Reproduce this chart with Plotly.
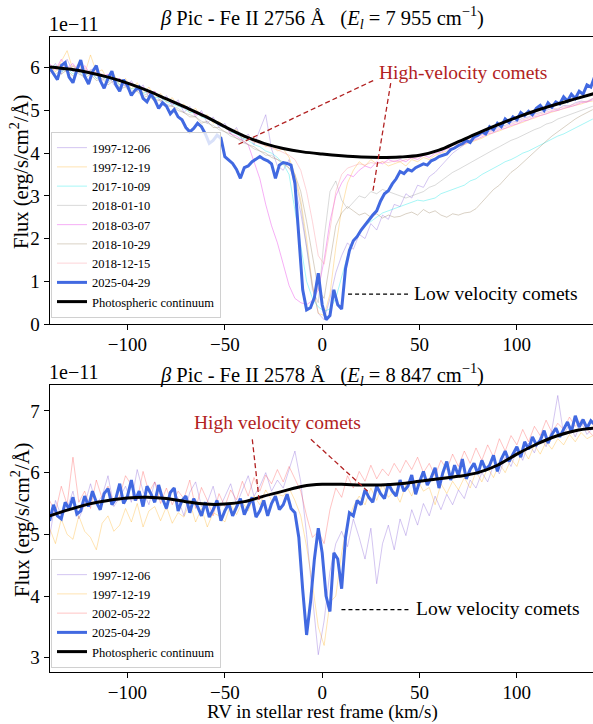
import numpy as np
import plotly.graph_objects as go

FONT = '"Liberation Serif", "Times New Roman", Times, serif'

# ---------------- TOP PANEL: Fe II 2756 ----------------
top_rv_fine = np.arange(-140, 141, 2)      # 2 km/s grid
top_rv_coarse = np.arange(-140, 140, 3)    # 3 km/s grid
top_cont_rv = np.arange(-140, 141, 10)

top_continuum = [6.02, 5.97, 5.89, 5.78, 5.64, 5.47, 5.27, 5.07, 4.86, 4.62,
                 4.40, 4.23, 4.11, 4.03, 3.98, 3.94, 3.91, 3.90, 3.91, 3.95,
                 4.07, 4.27, 4.47, 4.66, 4.84, 5.00, 5.14, 5.27, 5.40]

top_2025_04_29 = [6.00, 5.85, 5.72, 6.05, 6.12, 5.78, 5.65, 5.95, 6.18, 5.80,
                  5.62, 5.90, 6.05, 5.70, 5.52, 5.75, 5.92, 5.60, 5.45, 5.72,
                  5.58, 5.35, 5.48, 5.55, 5.28, 5.20, 5.38, 5.25, 5.05, 5.18,
                  5.10, 4.92, 5.02, 4.85, 4.78, 4.60, 4.50, 4.58, 4.70, 4.62,
                  4.45, 4.23, 4.30, 4.42, 4.35, 3.92, 3.85, 3.76, 3.62, 3.41,
                  3.66, 3.70, 3.80, 3.85, 3.92, 3.86, 3.82, 3.75, 3.41, 3.72,
                  3.78, 3.76, 3.72, 3.30, 2.10, 0.80, 0.33, 0.38, 0.62, 1.19,
                  0.45, 0.10, 0.20, 0.80, 0.45, 0.35, 1.30, 1.72, 1.95, 2.05,
                  2.20, 2.32, 2.42, 2.55, 2.65, 2.88, 3.05, 3.12, 3.28, 3.40,
                  3.57, 3.52, 3.62, 3.58, 3.66, 3.70, 3.75, 3.72, 3.82, 3.86,
                  3.92, 3.95, 3.98, 4.08, 4.12, 4.18, 4.22, 4.30, 4.25, 4.38,
                  4.42, 4.50, 4.45, 4.62, 4.55, 4.70, 4.62, 4.80, 4.72, 4.85,
                  4.78, 4.95, 4.88, 4.98, 4.90, 5.05, 5.12, 5.00, 5.18, 5.08,
                  5.20, 5.15, 5.32, 5.22, 5.38, 5.28, 5.45, 5.38, 5.60, 5.55,
                  5.80]

top_1997_12_06 = [5.95, 6.10, 5.85, 6.20, 5.90, 6.05, 5.80, 5.95, 6.00, 5.70,
                  5.85, 5.60, 5.75, 5.55, 5.70, 5.45, 5.60, 5.30, 5.45, 5.20,
                  5.35, 5.10, 5.25, 4.95, 5.10, 4.85, 5.00, 4.70, 4.85, 4.60,
                  4.70, 4.45, 4.60, 4.30, 4.45, 4.20, 4.55, 4.90, 4.10, 3.70,
                  3.60, 3.85, 3.20, 2.60, 1.80, 0.90, 0.25, 0.10, 0.60, 1.20,
                  1.60, 1.90, 1.75, 2.10, 2.00, 2.35, 2.20, 2.55, 2.45, 2.80,
                  2.75, 3.05, 2.95, 3.25, 3.20, 3.45, 3.55, 3.70, 3.85, 4.00,
                  4.10, 4.20, 4.30, 4.35, 4.45, 4.50, 4.55, 4.62, 4.65, 4.72,
                  4.75, 4.82, 4.85, 4.92, 4.95, 5.00, 5.05, 5.02, 5.12, 5.10,
                  5.18, 5.22, 5.20, 5.28]

top_1997_12_19 = [6.05, 5.90, 6.15, 6.40, 5.95, 6.10, 5.85, 6.30, 5.90, 5.95,
                  5.70, 5.85, 5.60, 5.75, 5.50, 5.65, 5.40, 5.55, 5.30, 5.40,
                  5.20, 5.30, 5.10, 5.15, 4.95, 5.05, 4.85, 4.90, 4.70, 4.75,
                  4.60, 4.50, 4.55, 4.35, 4.40, 4.25, 4.30, 4.15, 4.20, 4.05,
                  4.10, 3.90, 3.50, 2.90, 2.00, 0.90, 0.25, 0.20, 0.70, 1.80,
                  2.70, 3.30, 3.60, 3.80, 3.70, 3.85, 3.75, 3.80, 3.70, 3.75,
                  3.80, 3.70, 3.85, 3.80, 3.90, 3.85, 3.95, 4.00, 4.05, 4.10,
                  4.15, 4.20, 4.25, 4.30, 4.35, 4.42, 4.48, 4.52, 4.58, 4.62,
                  4.68, 4.72, 4.78, 4.82, 4.88, 4.92, 4.96, 5.00, 5.05, 5.08,
                  5.12, 5.15, 5.20, 5.22]

top_2017_10_09 = [5.95, 6.05, 5.90, 6.00, 5.85, 5.95, 5.80, 5.90, 5.75, 5.80,
                  5.70, 5.75, 5.60, 5.65, 5.50, 5.55, 5.40, 5.45, 5.30, 5.30,
                  5.20, 5.15, 5.10, 5.05, 4.95, 4.95, 4.85, 4.80, 4.75, 4.65,
                  4.60, 4.50, 4.45, 4.35, 4.30, 4.20, 4.15, 4.05, 4.00, 3.90,
                  3.75, 3.50, 2.70, 1.80, 1.00, 0.60, 0.40, 0.30, 0.35, 0.60,
                  1.10, 1.60, 1.95, 2.15, 2.30, 2.40, 2.50, 2.60, 2.65, 2.70,
                  2.75, 2.80, 2.85, 2.90, 2.88, 2.92, 2.95, 3.05, 3.10, 3.15,
                  3.20, 3.25, 3.35, 3.40, 3.50, 3.58, 3.65, 3.72, 3.80, 3.85,
                  3.92, 4.00, 4.05, 4.12, 4.18, 4.25, 4.32, 4.40, 4.45, 4.52,
                  4.58, 4.65, 4.72, 4.80]

top_2018_01_10 = [6.00, 5.85, 5.95, 5.90, 6.05, 5.85, 5.80, 5.95, 5.75, 5.80,
                  5.65, 5.75, 5.55, 5.60, 5.45, 5.50, 5.35, 5.40, 5.25, 5.25,
                  5.15, 5.10, 5.05, 4.95, 4.90, 4.85, 4.75, 4.70, 4.65, 4.55,
                  4.50, 4.40, 4.35, 4.25, 4.20, 4.10, 4.05, 3.95, 3.95, 3.85,
                  3.80, 3.65, 3.40, 2.80, 1.80, 0.80, 0.50, 2.00, 3.10, 3.35,
                  2.90, 2.70, 2.85, 3.00, 2.95, 3.10, 3.05, 3.15, 3.10, 3.05,
                  3.00, 2.95, 3.00, 3.05, 3.10, 3.20, 3.25, 3.35, 3.45, 3.55,
                  3.62, 3.70, 3.78, 3.85, 3.92, 4.00, 4.08, 4.15, 4.22, 4.30,
                  4.35, 4.42, 4.48, 4.55, 4.60, 4.68, 4.72, 4.80, 4.85, 4.90,
                  4.95, 5.00, 5.05, 5.10]

top_2018_03_07 = [6.10, 5.95, 6.20, 6.00, 6.10, 5.90, 6.05, 5.85, 5.90, 5.80,
                  5.85, 5.70, 5.75, 5.60, 5.65, 5.50, 5.55, 5.40, 5.45, 5.30,
                  5.30, 5.15, 5.20, 5.05, 5.05, 4.90, 4.95, 4.80, 4.80, 4.65,
                  4.65, 4.45, 4.40, 4.30, 4.20, 3.80, 3.40, 2.80, 2.30, 1.90,
                  1.40, 0.90, 0.60, 0.50, 0.45, 0.55, 0.80, 1.50, 2.40, 3.00,
                  3.30, 3.50, 3.45, 3.60, 3.70, 3.65, 3.80, 3.75, 3.85, 3.80,
                  3.85, 3.80, 3.90, 3.85, 3.95, 3.90, 4.00, 4.02, 4.10, 4.12,
                  4.18, 4.22, 4.28, 4.32, 4.38, 4.45, 4.48, 4.55, 4.58, 4.65,
                  4.68, 4.75, 4.78, 4.85, 4.88, 4.92, 4.98, 5.00, 5.05, 5.08,
                  5.12, 5.18, 5.20, 5.25]

top_2018_10_29 = [5.90, 6.00, 5.85, 5.95, 5.80, 5.90, 5.75, 5.85, 5.70, 5.75,
                  5.60, 5.70, 5.50, 5.55, 5.40, 5.45, 5.30, 5.35, 5.20, 5.25,
                  5.10, 5.10, 5.00, 4.95, 4.85, 4.85, 4.70, 4.75, 4.60, 4.60,
                  4.50, 4.45, 4.35, 4.30, 4.20, 4.15, 4.05, 4.00, 3.90, 3.85,
                  3.75, 3.65, 3.50, 3.10, 2.40, 1.60, 0.80, 0.60, 1.50, 2.30,
                  2.60, 2.75, 2.65, 2.55, 2.60, 2.50, 2.58, 2.48, 2.55, 2.50,
                  2.52, 2.58, 2.62, 2.55, 2.68, 2.60, 2.65, 2.55, 2.50, 2.58,
                  2.55, 2.60, 2.62, 2.70, 2.85, 3.00, 3.15, 3.25, 3.40, 3.55,
                  3.65, 3.78, 3.90, 4.02, 4.15, 4.28, 4.40, 4.50, 4.62, 4.72,
                  4.80, 4.88, 4.95, 5.02]

top_2018_12_15 = [5.85, 6.00, 6.10, 5.90, 6.05, 5.95, 6.00, 5.80, 5.90, 5.85,
                  5.80, 5.70, 5.72, 5.62, 5.60, 5.50, 5.52, 5.40, 5.42, 5.30,
                  5.28, 5.18, 5.15, 5.05, 5.05, 4.92, 4.92, 4.80, 4.78, 4.68,
                  4.62, 4.52, 4.48, 4.40, 4.35, 4.28, 4.22, 4.18, 4.12, 4.08,
                  4.02, 3.95, 3.85, 3.60, 3.10, 2.40, 1.60, 1.40, 2.20, 3.10,
                  3.50, 3.65, 3.70, 3.75, 3.72, 3.78, 3.75, 3.80, 3.78, 3.82,
                  3.80, 3.85, 3.88, 3.90, 3.95, 3.98, 4.02, 4.08, 4.12, 4.18,
                  4.22, 4.28, 4.32, 4.38, 4.42, 4.48, 4.52, 4.58, 4.62, 4.68,
                  4.72, 4.78, 4.82, 4.88, 4.92, 4.95, 5.00, 5.05, 5.08, 5.12,
                  5.15, 5.20, 5.22, 5.28]

# ---------------- BOTTOM PANEL: Fe II 2578 ----------------
bot_rv_fine = np.arange(-140, 141, 2)
bot_rv_coarse = np.arange(-140, 140, 3)
bot_cont_rv = np.arange(-140, 141, 10)

bot_continuum = [5.30, 5.40, 5.49, 5.55, 5.59, 5.60, 5.58, 5.53, 5.49, 5.49,
                 5.53, 5.62, 5.70, 5.78, 5.81, 5.81, 5.80, 5.80, 5.82, 5.86,
                 5.90, 5.94, 6.00, 6.12, 6.30, 6.46, 6.59, 6.68, 6.72]

bot_2025_04_29 = [5.22, 5.48, 5.30, 5.25, 5.52, 5.41, 5.60, 5.33, 5.38, 5.62,
                  5.45, 5.70, 5.52, 5.40, 5.66, 5.74, 5.48, 5.58, 5.82, 5.50,
                  5.62, 5.88, 5.55, 5.70, 5.45, 5.78, 5.66, 5.52, 5.80, 5.58,
                  5.42, 5.68, 5.75, 5.38, 5.55, 5.62, 5.35, 5.58, 5.45, 5.30,
                  5.52, 5.28, 5.40, 5.55, 5.22, 5.38, 5.50, 5.30, 5.44, 5.58,
                  5.32, 5.46, 5.60, 5.28, 5.38, 5.55, 5.30, 5.50, 5.62, 5.40,
                  5.48, 5.65, 5.42, 5.35, 4.95, 4.10, 3.37, 3.90, 4.60, 5.10,
                  4.70, 4.00, 3.75, 4.70, 4.60, 4.12, 4.95, 5.35, 5.30, 5.55,
                  5.48, 5.72, 5.60, 5.52, 5.78, 5.66, 5.58, 5.82, 5.70, 5.62,
                  5.88, 5.70, 5.78, 5.96, 5.65, 5.85, 6.02, 5.80, 5.92, 6.08,
                  5.75, 6.00, 6.18, 5.88, 6.12, 5.95, 6.22, 5.90, 6.05, 6.15,
                  5.98, 6.20, 6.05, 6.12, 6.28, 6.02, 6.22, 6.35, 6.18, 6.30,
                  6.42, 6.25, 6.50, 6.38, 6.58, 6.45, 6.52, 6.68, 6.48, 6.62,
                  6.72, 6.58, 6.70, 6.82, 6.66, 6.92, 6.74, 6.86, 6.72, 6.84,
                  6.78]

bot_1997_12_06 = [4.95, 5.55, 5.30, 5.42, 5.70, 5.25, 5.48, 5.82, 5.50, 5.62,
                  5.95, 5.45, 5.60, 5.78, 5.52, 6.05, 5.70, 5.48, 5.85, 5.62,
                  5.40, 5.75, 5.58, 5.30, 5.68, 5.85, 5.45, 5.52, 5.78, 5.40,
                  5.60, 5.82, 5.48, 5.70, 5.95, 5.62, 5.78, 6.00, 5.70, 5.88,
                  5.75, 6.05, 6.35, 5.85, 5.00, 4.00, 3.05, 3.60, 4.40, 4.85,
                  5.05, 4.80, 5.25, 4.95, 4.60, 5.10, 4.20, 4.85, 5.15, 4.75,
                  5.25, 4.98, 5.40, 5.15, 5.50, 5.30, 5.62, 5.40, 5.65, 5.48,
                  5.72, 5.58, 5.88, 5.75, 6.00, 5.85, 6.12, 5.98, 6.25, 6.10,
                  6.38, 6.20, 6.48, 6.32, 6.58, 6.42, 6.70, 7.25, 6.62, 6.78,
                  6.58, 6.82, 6.62, 6.72]

bot_1997_12_19 = [5.10, 4.85, 5.25, 5.00, 4.92, 5.30, 5.05, 4.95, 4.75, 5.18,
                  5.30, 5.05, 5.15, 5.42, 5.20, 5.50, 5.12, 5.38, 5.45, 5.22,
                  5.45, 5.18, 5.35, 5.28, 5.52, 5.20, 5.42, 5.12, 5.35, 5.30,
                  5.20, 5.48, 5.32, 5.52, 5.38, 5.62, 5.48, 5.72, 5.55, 5.65,
                  5.62, 5.75, 5.55, 5.30, 4.80, 4.20, 3.50, 3.20, 3.90, 4.00,
                  4.70, 5.20, 5.45, 5.62, 5.48, 5.75, 5.55, 5.82, 5.60, 5.70,
                  5.52, 5.80, 5.62, 5.88, 5.70, 5.76, 5.48, 5.82, 5.66, 5.86,
                  5.72, 5.92, 5.75, 6.02, 5.85, 6.08, 5.92, 6.15, 6.00, 6.22,
                  6.10, 6.38, 6.22, 6.45, 6.30, 6.50, 6.38, 6.55, 6.45, 6.62,
                  6.50, 6.65, 6.55, 6.60]

bot_2002_05_22 = [5.55, 5.35, 5.78, 5.48, 6.25, 5.52, 5.70, 5.42, 5.88, 5.58,
                  5.78, 5.50, 5.62, 5.95, 5.80, 5.55, 6.02, 5.68, 5.85, 5.50,
                  5.75, 5.48, 5.70, 5.58, 5.88, 5.42, 5.76, 5.55, 5.30, 5.66,
                  5.45, 5.72, 5.56, 5.86, 5.62, 5.92, 5.70, 5.96, 5.82, 6.05,
                  5.85, 6.10, 5.90, 5.70, 5.30, 4.95, 5.05, 4.85, 5.40, 5.75,
                  5.60, 5.95, 5.75, 6.02, 5.86, 6.12, 5.90, 6.06, 5.95, 6.15,
                  6.00, 6.20, 6.05, 6.25, 6.00, 6.15, 5.95, 6.20, 6.05, 6.30,
                  6.10, 6.35, 6.15, 6.40, 6.20, 6.45, 6.25, 6.55, 6.35, 6.60,
                  6.45, 6.70, 6.50, 6.75, 6.60, 6.85, 6.65, 6.80, 6.70, 6.90,
                  6.75, 6.85, 6.70, 6.60]

# ---------------- figure ----------------
W, H = 593, 724
XL = 49.6 / W
TOP_DOM = [(H - 324) / H, (H - 37) / H]
BOT_DOM = [(H - 672) / H, (H - 385) / H]

fig = go.Figure()

def faint(x, y, name, color, xa, ya, leg):
    fig.add_trace(go.Scatter(x=x, y=y, name=name, mode="lines",
                             line=dict(color=color, width=1),
                             xaxis=xa, yaxis=ya, legend=leg))

top_faint = [
    ("1997-12-06", top_1997_12_06, "rgba(147,112,219,0.40)"),
    ("1997-12-19", top_1997_12_19, "rgba(255,165,0,0.30)"),
    ("2017-10-09", top_2017_10_09, "rgba(0,230,230,0.35)"),
    ("2018-01-10", top_2018_01_10, "rgba(150,150,150,0.35)"),
    ("2018-03-07", top_2018_03_07, "rgba(238,110,238,0.55)"),
    ("2018-10-29", top_2018_10_29, "rgba(160,140,110,0.40)"),
    ("2018-12-15", top_2018_12_15, "rgba(250,160,170,0.45)"),
]
for name, vals, col in top_faint:
    faint(top_rv_coarse, vals, name, col, "x", "y", "legend")
fig.add_trace(go.Scatter(x=top_rv_fine, y=top_2025_04_29, name="2025-04-29", mode="lines",
                         line=dict(color="#4169e1", width=3), xaxis="x", yaxis="y", legend="legend"))
fig.add_trace(go.Scatter(x=top_cont_rv, y=top_continuum, name="Photospheric continuum", mode="lines",
                         line=dict(color="black", width=3, shape="spline"),
                         xaxis="x", yaxis="y", legend="legend"))

bot_faint = [
    ("1997-12-06", bot_1997_12_06, "rgba(147,112,219,0.40)"),
    ("1997-12-19", bot_1997_12_19, "rgba(255,165,0,0.30)"),
    ("2002-05-22", bot_2002_05_22, "rgba(255,60,60,0.30)"),
]
for name, vals, col in bot_faint:
    faint(bot_rv_coarse, vals, name, col, "x2", "y2", "legend2")
fig.add_trace(go.Scatter(x=bot_rv_fine, y=bot_2025_04_29, name="2025-04-29", mode="lines",
                         line=dict(color="#4169e1", width=3), xaxis="x2", yaxis="y2", legend="legend2"))
fig.add_trace(go.Scatter(x=bot_cont_rv, y=bot_continuum, name="Photospheric continuum", mode="lines",
                         line=dict(color="black", width=3, shape="spline"),
                         xaxis="x2", yaxis="y2", legend="legend2"))

ax = dict(showline=True, linecolor="black", linewidth=1, mirror=True,
          ticks="outside", ticklen=5, tickwidth=1, tickcolor="black",
          tickfont=dict(family=FONT, size=19, color="black"),
          showgrid=False, zeroline=False, automargin=False)

fig.update_layout(
    width=W, height=H,
    margin=dict(l=0, r=0, t=0, b=0, autoexpand=False),
    paper_bgcolor="white", plot_bgcolor="white",
    font=dict(family=FONT, color="black"),
    xaxis=dict(ax, domain=[XL, 1], range=[-140, 139.1], anchor="y",
               tickvals=[-100, -50, 0, 50, 100], ticklabelstandoff=-2),
    yaxis=dict(ax, domain=TOP_DOM, range=[0, 6.72], anchor="x", dtick=1),
    xaxis2=dict(ax, domain=[XL, 1], range=[-140, 139.1], anchor="y2",
                tickvals=[-100, -50, 0, 50, 100], ticklabelstandoff=-2),
    yaxis2=dict(ax, domain=BOT_DOM, range=[2.77, 7.42], anchor="x2", dtick=1),
    legend=dict(x=0.086, y=(H - 318) / H, xanchor="left", yanchor="bottom",
                bgcolor="rgba(255,255,255,0.8)", bordercolor="#d0d0d0", borderwidth=1,
                font=dict(family=FONT, size=12.5, color="black"), itemwidth=30,
                tracegroupgap=0),
    legend2=dict(x=0.086, y=(H - 668) / H, xanchor="left", yanchor="bottom",
                 bgcolor="rgba(255,255,255,0.8)", bordercolor="#d0d0d0", borderwidth=1,
                 font=dict(family=FONT, size=12.5, color="black"), itemwidth=30,
                 tracegroupgap=0),
    showlegend=True,
)

RED = "#b22222"
YT = "Flux (erg/s/cm<sup>2</sup>/Å)"
anns = [
    dict(text="<i>β</i> Pic - Fe II 2756 Å   (<i>E<sub>l</sub></i> = 7 955 cm<sup>−1</sup>)",
         x=322 / W, y=(H - 18) / H, xref="paper", yref="paper", showarrow=False,
         xanchor="center", yanchor="middle", font=dict(family=FONT, size=20.5)),
    dict(text="<i>β</i> Pic - Fe II 2578 Å   (<i>E<sub>l</sub></i> = 8 847 cm<sup>−1</sup>)",
         x=322 / W, y=(H - 374) / H, xref="paper", yref="paper", showarrow=False,
         xanchor="center", yanchor="middle", font=dict(family=FONT, size=20.5)),
    dict(text="1e−11", x=XL - 0.005, y=TOP_DOM[1], xref="paper", yref="paper", showarrow=False,
         xanchor="left", yanchor="bottom", yshift=0, font=dict(family=FONT, size=20)),
    dict(text="1e−11", x=XL - 0.005, y=BOT_DOM[1], xref="paper", yref="paper", showarrow=False,
         xanchor="left", yanchor="bottom", yshift=0, font=dict(family=FONT, size=20)),
    dict(text=YT, x=20 / W, y=(H - 172) / H, xref="paper", yref="paper", showarrow=False,
         textangle=-90, xanchor="center", yanchor="middle", font=dict(family=FONT, size=20.5)),
    dict(text=YT, x=20 / W, y=(H - 520) / H, xref="paper", yref="paper", showarrow=False,
         textangle=-90, xanchor="center", yanchor="middle", font=dict(family=FONT, size=20.5)),
    dict(text="RV in stellar rest frame (km/s)", x=322 / W, y=(H - 712) / H, xref="paper",
         yref="paper", showarrow=False, xanchor="center", yanchor="middle",
         font=dict(family=FONT, size=19)),
    dict(text="High-velocity comets", x=72.3, y=5.89, xref="x", yref="y", showarrow=False,
         font=dict(family=FONT, size=19.5, color=RED)),
    dict(text="Low velocity comets", x=46.0, y=0.72, xref="x", yref="y", showarrow=False,
         xanchor="left", font=dict(family=FONT, size=19.5, color="black")),
    dict(text="High velocity comets", x=-23.2, y=6.82, xref="x2", yref="y2", showarrow=False,
         font=dict(family=FONT, size=19.5, color=RED)),
    dict(text="Low velocity comets", x=47.0, y=3.80, xref="x2", yref="y2", showarrow=False,
         xanchor="left", font=dict(family=FONT, size=19.5, color="black")),
]
fig.update_layout(annotations=anns)

RDASH = "5px,3px"
KDASH = "4px,3px"
shapes = [
    dict(type="line", xref="x", yref="y", x0=26.2, y0=5.70, x1=-43.9, y1=4.19,
         line=dict(color=RED, width=1.3, dash=RDASH)),
    dict(type="line", xref="x", yref="y", x0=35.2, y0=5.64, x1=25.9, y1=3.07,
         line=dict(color=RED, width=1.3, dash=RDASH)),
    dict(type="line", xref="x", yref="y", x0=13.3, y0=0.70, x1=44.1, y1=0.70,
         line=dict(color="black", width=1.2, dash=KDASH)),
    dict(type="line", xref="x2", yref="y2", x0=-35.9, y0=6.54, x1=-32.3, y1=5.53,
         line=dict(color=RED, width=1.3, dash=RDASH)),
    dict(type="line", xref="x2", yref="y2", x0=-5.8, y0=6.54, x1=24.4, y1=5.67,
         line=dict(color=RED, width=1.3, dash=RDASH)),
    dict(type="line", xref="x2", yref="y2", x0=9.9, y0=3.78, x1=44.3, y1=3.78,
         line=dict(color="black", width=1.2, dash=KDASH)),
]
fig.update_layout(shapes=shapes)

fig.write_html("out.html", config={"displayModeBar": False},
               post_script="document.body.style.margin='0';document.body.style.overflow='hidden';")
